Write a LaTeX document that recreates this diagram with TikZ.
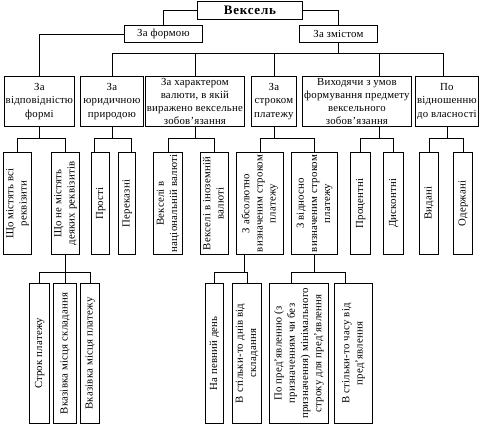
\documentclass[tikz,border=0pt]{standalone}
\usepackage{fontspec}
\setmainfont{Liberation Serif}[LetterSpace=2]
\usepackage{graphicx}
\usetikzlibrary{positioning}

\newcommand{\uprot}[1]{\rotatebox{90}{\begin{tabular}{@{}c@{}}#1\end{tabular}}}

\begin{document}
\begin{tikzpicture}[x=1pt, y=-1pt,
      box/.style={draw, fill=white, line width=0.8pt, inner sep=0pt, align=center, anchor=north west, font=\fontsize{10.8}{13.2}\selectfont},
      head/.style={box, font=\fontsize{13}{15}\selectfont\bfseries\addfontfeatures{LetterSpace=6}},
      link/.style={draw, line width=0.8pt}
    ]
    \useasboundingbox (0,0) rectangle (479,424);
    \node[head, minimum width=105, minimum height=18] (root) at (197,1) {Вексель};
    \node[box, minimum width=78, minimum height=17] (form) at (124,25) {За формою};
    \node[box, minimum width=78, minimum height=17] (zmist) at (299,25) {За змістом};
    \foreach \gname/\gx/\gw/\gtext in {vidp/4/70/{За\\відповідністю\\формі},jur/80/63/{За\\юридичною\\природою},val/145/99/{За характером\\валюти, в якій\\виражено вексельне\\зобов’язання},strok/251/45/{За\\строком\\платежу},vyh/302/109/{Виходячи з умов\\формування предмету\\вексельного\\зобов’язання},vlas/415/63/{По\\відношенню\\до власності}}{%
      \node[box, minimum width=\gw, minimum height=50] (\gname) at (\gx,76) {\gtext};
    }
    \foreach \vname/\vx/\vw/\vtxt in {v1/3/28/{Що містять всі\\реквізити},v2/51/28/{Що не містять\\деяких реквізитів},v3/91/18/{Прості},v4/118/17/{Переказні},v5/153/29/{Векселі в\\національній валюті},v6/200/28/{Векселі в іноземній\\валюті},v7/236/47/{З абсолютно\\визначеним строком\\платежу},v8/291/46/{З відносно\\визначеним строком\\платежу},v9/350/20/{Процентні},v10/383/20/{Дисконтні},v11/419/19/{Видані},v12/453/19/{Одержані}}{%
      \node[box, minimum width=\vw, minimum height=102] (\vname) at (\vx,152) {\uprot{\vtxt}};
    }
    \foreach \wname/\wx/\ww/\wtxt in {w1/29/20/{Строк платежу},w2/53/23/{Вказівка місця складання},w3/80/19/{Вказівка місця платежу},w4/205/18/{На певний день},w5/232/29/{В стільки-то днів від\\складання},w6/269/59/{По пред’явленню (з\\призначенням чи без\\призначення) мінімального\\строку для пред’явлення},w7/334/38/{В стільки-то часу від\\пред’явлення}}{%
      \node[box, minimum width=\ww, minimum height=140] (\wname) at (\wx,283) {\uprot{\wtxt}};
    }
    \draw[link] (root.west) -| (form.north);
    \draw[link] (root.east) -| (zmist.north);
    \draw[link] (form.west) -| (vidp.north);
    \foreach \kid/\kx in {jur/0,val/0,strok/0,vyh/22,vlas/-4}{%
      \draw[link] (zmist.south) -- ++(0,11) -| ([xshift=\kx pt]\kid.north);
    }
    \foreach \up/\dx/\kid/\kx in {vidp/0/v1/0,vidp/0/v2/0,jur/0/v3/-6,jur/0/v4/4,val/0/v5/0,val/0/v6/0,strok/0/v7/0,strok/0/v8/0,vyh/22/v9/0,vyh/22/v10/0,vlas/0/v11/0,vlas/0/v12/0}{%
      \draw[link] ([xshift=\dx pt]\up.south) -- ++(0,12) -| ([xshift=\kx pt]\kid.north);
    }
    \foreach \up/\dx/\kid/\kx in {v2/0/w1/0,v2/0/w2/0,v2/0/w3/0,v7/-16/w4/0,v7/-16/w5/0,v8/0/w6/-8,v8/0/w7/-8}{%
      \draw[link] ([xshift=\dx pt]\up.south) -- ++(0,18) -| ([xshift=\kx pt]\kid.north);
    }
  \end{tikzpicture}
\end{document}
